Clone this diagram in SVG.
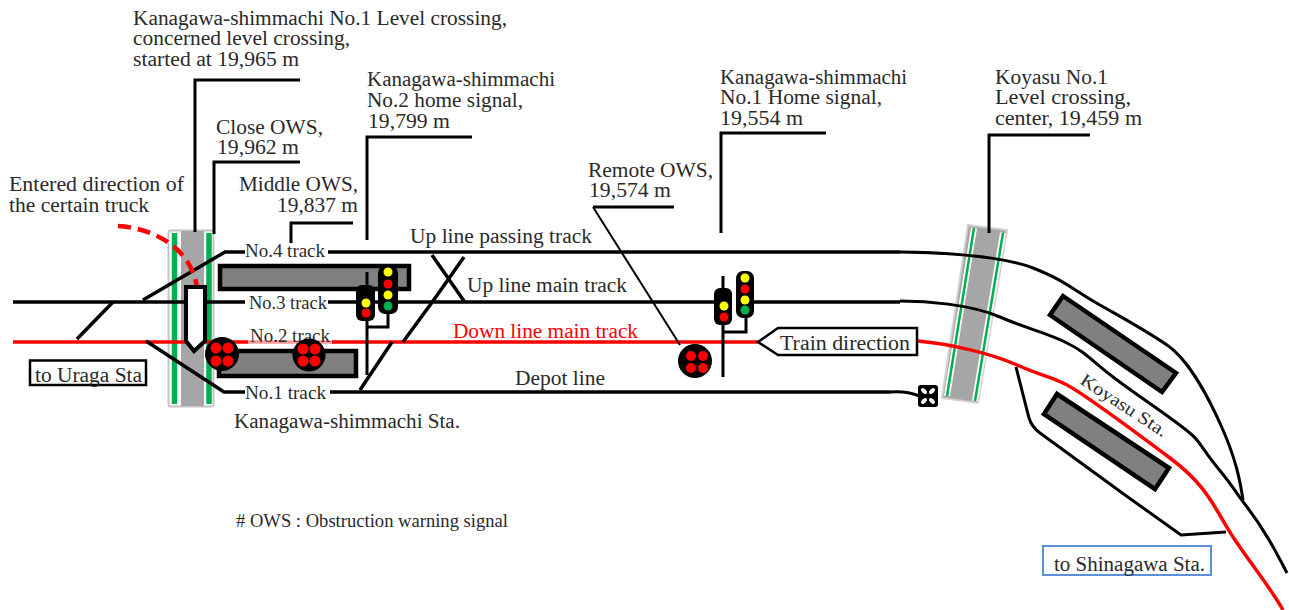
<svg xmlns="http://www.w3.org/2000/svg" width="1289" height="610" viewBox="0 0 1289 610">
<style>
text{font-family:"Liberation Serif","Times New Roman",serif;font-size:20px;fill:#2a2a2a}
.n{font-size:18px}
.t{fill:none;stroke:#000;stroke-width:3.5}
.c{fill:none;stroke:#000;stroke-width:3}
.l{fill:none;stroke:#000;stroke-width:3}
.x{fill:none;stroke:#000;stroke-width:1.5}
.r{fill:none;stroke:#f00;stroke-width:3.5}
.g{fill:none;stroke:#00b050;stroke-width:5.5}
.g2{fill:none;stroke:#00b050;stroke-width:2.5}
.h{fill:none;stroke:#fff;stroke-width:6}
.p{fill:#808080;stroke:#000;stroke-width:4.5}
.s{fill:#000}
.y{fill:#ff0}.rd{fill:#f00}.gn{fill:#00b050}
</style>
<rect width="1289" height="610" fill="#fff"/>
<g id="crossing-kanagawa">
<rect x="168.500" y="230.500" width="45" height="176" rx="2" fill="#fff" stroke="#c4c4c4" stroke-width="2"/>
<rect x="181" y="231" width="23" height="175" fill="#a6a6a6"/>
<line class="g" x1="174.500" y1="233" x2="174.500" y2="404"/><line class="g" x1="209" y1="233" x2="209" y2="404"/>
</g>
<g id="crossing-koyasu">
<polygon points="968,225 1007,230 978,403 942,398" fill="#a6a6a6" stroke="#d0d0d0" stroke-width="2"/>
<line class="h" x1="974" y1="228" x2="947" y2="396"/><line class="h" x1="1003" y1="233" x2="975" y2="401"/>
<line class="g2" x1="974" y1="228" x2="947" y2="396"/><line class="g2" x1="1003" y1="233" x2="975" y2="401"/>
</g>
<g id="platforms">
<rect class="p" x="220" y="266" width="189" height="23"/>
<rect class="p" x="219" y="351" width="137" height="25"/>
<polygon class="p" points="1063,296 1176,373 1162,392 1050,315"/>
<polygon class="p" points="1057,394 1169,468 1155,489 1044,414"/>
</g>
<g id="connectors">
<path class="t" d="M13,302H720M752,302H900"/>
<path class="c" d="M900,301C925,301 970,304 1000,317S1045,332 1067,343S1090,360 1117,380S1150,403 1177,423S1195,440 1217,467S1230,485 1247,507S1275,550 1287,573"/>
<path class="t" d="M143,300L225,252H245M328,252H900"/>
<path class="c" d="M900,252C930,252 1000,255 1033,268S1070,288 1100,305S1145,330 1167,345S1210,400 1223,430S1240,480 1243,500"/>
<path class="r" d="M13,342H758"/>
<path class="r" d="M918,341C950,344 990,353 1017,365S1050,376 1067,385S1130,428 1170,458S1215,510 1233,537S1272,590 1283,610"/>
<path class="t" d="M146,341L224,392H245M330,392H890"/>
<path class="c" d="M890,392C900,391 912,393 920,396"/>
<path class="t" d="M113,302L77,339"/>
<path class="t" d="M432,255L464,301M464,257L433,301L403,342M392,342L360,390"/>
<path class="c" d="M1016,367L1029,418C1031,425 1036,430 1040,433L1125,495L1181,535L1226,532"/>
<path class="l" d="M195,232V80H300M214,234V162H300M291,243V223H353M367,240V137H472M721,233V133H826M989,233V135H1090"/>
<path class="x" d="M674,207H593" style="stroke-width:3"/>
<path class="x" d="M593,207L680,345" style="stroke-width:2"/>
<path d="M118,226C150,228 190,245 197,287" fill="none" stroke="#f00" stroke-width="4.500" stroke-dasharray="13 7"/>
</g>
<g id="arrow-entered"><polygon points="186,287 205,287 205,341 194,351 186,341" fill="#fff" stroke="#000" stroke-width="4"/></g>
<g id="label-uraga"><rect x="30" y="360.500" width="116" height="24.500" fill="#fff" stroke="#000" stroke-width="2.500"/><text x="35" y="382" textLength="107" lengthAdjust="spacingAndGlyphs">to Uraga Sta</text></g>
<g id="label-tracks">
<rect x="245" y="243" width="83" height="18" fill="#fff"/><text class="n" x="245" y="257" textLength="80" lengthAdjust="spacingAndGlyphs">No.4 track</text>
<rect x="245" y="295" width="83" height="16" fill="#fff"/><text class="n" x="249" y="309" textLength="78" lengthAdjust="spacingAndGlyphs">No.3 track</text>
<rect x="248" y="332" width="84" height="14" fill="#fff" fill-opacity=".6"/><text class="n" x="250" y="342" textLength="80" lengthAdjust="spacingAndGlyphs">No.2 track</text>
<rect x="245" y="384" width="85" height="16" fill="#fff"/><text class="n" x="245" y="399" textLength="81" lengthAdjust="spacingAndGlyphs">No.1 track</text>
</g>
<g id="signal-ows-a"><circle class="s" cx="222" cy="354" r="17"/><circle class="rd" cx="216" cy="348" r="5.500"/><circle class="rd" cx="228" cy="348" r="5.500"/><circle class="rd" cx="216" cy="361" r="5.500"/><circle class="rd" cx="228" cy="361" r="5.500"/></g>
<g id="signal-ows-b"><circle class="s" cx="309" cy="355" r="16.500"/><circle class="rd" cx="303" cy="349" r="5.500"/><circle class="rd" cx="315" cy="349" r="5.500"/><circle class="rd" cx="303" cy="361" r="5.500"/><circle class="rd" cx="315" cy="361" r="5.500"/></g>
<g id="signal-ows-remote"><circle class="s" cx="695" cy="361" r="17"/><circle class="rd" cx="691" cy="356" r="5"/><circle class="rd" cx="703" cy="356" r="5"/><circle class="rd" cx="691" cy="368" r="5"/><circle class="rd" cx="703" cy="368" r="5"/></g>
<g id="signal-home-2">
<path class="l" d="M367,272V375M388,312V327H367"/>
<rect class="s" x="356" y="285" width="19" height="36" rx="6"/><circle class="y" cx="366" cy="303" r="4.500"/><circle class="rd" cx="366" cy="313" r="4.500"/>
<rect class="s" x="378" y="266" width="20" height="48" rx="7"/><circle class="y" cx="388" cy="272" r="4.500"/><circle class="rd" cx="388" cy="284" r="4.500"/><circle class="y" cx="388" cy="295" r="4.500"/><circle class="gn" cx="388" cy="306" r="4.500"/>
</g>
<g id="signal-home-1">
<path class="l" d="M723,276V377M746,315V332H724"/>
<rect class="s" x="714" y="288" width="18" height="37" rx="6"/><circle class="y" cx="724" cy="306" r="4.500"/><circle class="rd" cx="724" cy="317" r="4.500"/>
<rect class="s" x="736" y="271" width="18" height="47" rx="7"/><circle class="y" cx="745" cy="278" r="4.500"/><circle class="rd" cx="745" cy="289" r="4.500"/><circle class="y" cx="745" cy="300" r="4.500"/><circle class="gn" cx="745" cy="310" r="4.500"/>
</g>
<g id="train-direction"><polygon points="758,342 778,328 917,328 917,355 778,355" fill="#fff" stroke="#000" stroke-width="2.500"/><text x="780" y="350" textLength="130" lengthAdjust="spacingAndGlyphs">Train direction</text></g>
<g id="depot-stop"><rect class="s" x="918" y="385" width="20" height="22" rx="3"/>
<g fill="#fff"><ellipse cx="924" cy="391" rx="3.500" ry="2" transform="rotate(45 924 391)"/><ellipse cx="932" cy="391" rx="3.500" ry="2" transform="rotate(-45 932 391)"/><ellipse cx="924" cy="401" rx="3.500" ry="2" transform="rotate(-45 924 401)"/><ellipse cx="932" cy="401" rx="3.500" ry="2" transform="rotate(45 932 401)"/></g></g>
<g id="label-shinagawa"><rect x="1043" y="546" width="168" height="29" fill="#fff" stroke="#5b8fd6" stroke-width="2"/><text x="1054" y="571" textLength="151" lengthAdjust="spacingAndGlyphs">to Shinagawa  Sta.</text></g>
<g id="labels">
<text x="133" y="25" textLength="374" lengthAdjust="spacingAndGlyphs">Kanagawa-shimmachi  No.1 Level crossing,</text>
<text x="133" y="45" textLength="217" lengthAdjust="spacingAndGlyphs">concerned level crossing,</text>
<text x="133" y="66" textLength="166" lengthAdjust="spacingAndGlyphs">started at 19,965 m</text>
<text x="216" y="134" textLength="107" lengthAdjust="spacingAndGlyphs">Close OWS,</text><text x="217" y="154" textLength="82" lengthAdjust="spacingAndGlyphs">19,962 m</text>
<text x="9" y="191" textLength="175" lengthAdjust="spacingAndGlyphs">Entered direction of</text><text x="9" y="212" textLength="140" lengthAdjust="spacingAndGlyphs">the certain truck</text>
<text x="239" y="191" textLength="119" lengthAdjust="spacingAndGlyphs">Middle OWS,</text><text x="277" y="212" textLength="81" lengthAdjust="spacingAndGlyphs">19,837 m</text>
<text x="367" y="86" textLength="188" lengthAdjust="spacingAndGlyphs">Kanagawa-shimmachi</text><text x="367" y="107" textLength="156" lengthAdjust="spacingAndGlyphs">No.2 home signal,</text><text x="368" y="128" textLength="82" lengthAdjust="spacingAndGlyphs">19,799 m</text>
<text x="720" y="84" textLength="187" lengthAdjust="spacingAndGlyphs">Kanagawa-shimmachi</text><text x="720" y="104" textLength="162" lengthAdjust="spacingAndGlyphs">No.1 Home signal,</text><text x="720" y="125" textLength="83" lengthAdjust="spacingAndGlyphs">19,554 m</text>
<text x="995" y="84" textLength="113" lengthAdjust="spacingAndGlyphs">Koyasu No.1</text><text x="995" y="104" textLength="136" lengthAdjust="spacingAndGlyphs">Level crossing,</text><text x="995" y="125" textLength="147" lengthAdjust="spacingAndGlyphs">center, 19,459 m</text>
<text x="588" y="177" textLength="125" lengthAdjust="spacingAndGlyphs">Remote OWS,</text><text x="589" y="197" textLength="82" lengthAdjust="spacingAndGlyphs">19,574 m</text>
<text x="410" y="243" textLength="182" lengthAdjust="spacingAndGlyphs">Up line passing track</text>
<text x="467" y="292" textLength="160" lengthAdjust="spacingAndGlyphs">Up line main track</text>
<text x="453" y="338" textLength="185" lengthAdjust="spacingAndGlyphs" style="fill:#f00">Down line main track</text>
<text x="515" y="385" textLength="90" lengthAdjust="spacingAndGlyphs">Depot line</text>
<text x="234" y="428" textLength="226" lengthAdjust="spacingAndGlyphs">Kanagawa-shimmachi  Sta.</text>
<text class="n" x="236" y="527" textLength="272" lengthAdjust="spacingAndGlyphs"># OWS : Obstruction warning signal</text>
<text class="n" transform="translate(1079,383) rotate(33)" textLength="100" lengthAdjust="spacingAndGlyphs">Koyasu Sta.</text>
</g>
</svg>
